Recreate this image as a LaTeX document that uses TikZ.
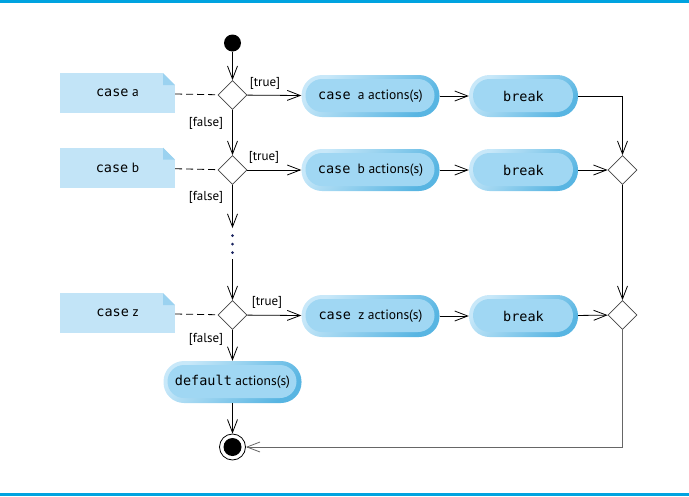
\documentclass[tikz,border=0pt]{standalone}
\usepackage{fontspec}
\setmainfont{PT Sans}
\setmonofont{DejaVu Sans Mono}
\usetikzlibrary{arrows.meta,shapes.geometric}
\definecolor{rulec}{HTML}{00A3E0}
\definecolor{notefill}{HTML}{C2E4F7}
\definecolor{notefold}{HTML}{9BD2F0}
\definecolor{acthi}{HTML}{C8E8F9}
\definecolor{actlo}{HTML}{58B5E2}
\definecolor{actin}{HTML}{A0D7F3}
\definecolor{diac}{HTML}{444444}
\definecolor{dotc}{HTML}{1A2460}
\begin{document}
\begin{tikzpicture}[x=1pt,y=-1pt,
  arr/.style={line width=0.8pt,-{Straight Barb[length=13pt,width=10pt,line width=0.8pt]}},
  dia/.style={diamond,draw=diac,line width=0.8pt,fill=white,minimum size=29pt,inner sep=0pt},
  act/.style={rectangle,rounded corners=20.5pt,minimum height=42pt,inner sep=0pt,
    top color=acthi,bottom color=actlo,shading angle=45,
    font=\fontsize{13.5}{16}\selectfont,
    path picture={\fill[actin,rounded corners=16.5pt]
      ([xshift=4pt,yshift=-4pt]path picture bounding box.north west) rectangle
      ([xshift=-5pt,yshift=5pt]path picture bounding box.south east);}},
  note/.style={rectangle,fill=notefill,minimum width=115pt,minimum height=40pt,inner sep=0pt,
    font=\fontsize{13.5}{16}\selectfont,
    path picture={
      \fill[white] ([xshift=-12pt]path picture bounding box.north east) --
        (path picture bounding box.north east) --
        ([yshift=-12pt]path picture bounding box.north east) -- cycle;
      \fill[notefold] ([xshift=-12pt]path picture bounding box.north east) --
        ([yshift=-12pt]path picture bounding box.north east) --
        ([xshift=-12pt,yshift=-12pt]path picture bounding box.north east) -- cycle;}},
  lbl/.style={font=\fontsize{13}{15}\selectfont,inner sep=0pt},
  dashc/.style={line width=0.8pt,dash pattern=on 7pt off 4pt}
]
\useasboundingbox (0,0) rectangle (689,496);
\fill[rulec] (0,0) rectangle (689,2.5);
\fill[rulec] (0,492.5) rectangle (689,495.5);

% start / end
\node[circle,fill=black,minimum size=17pt,inner sep=0pt] (s) at (232.5,43) {};
\node[circle,draw=black,line width=0.8pt,fill=white,minimum size=26pt,inner sep=0pt,
  path picture={\fill[black] (path picture bounding box.center) circle (9pt);}] (f) at (232.5,447) {};

% decisions
\node[dia] (d1) at (232.5,95) {};
\node[dia] (d2) at (232.5,170) {};
\node[dia] (d3) at (232.5,315) {};
\node[dia] (m1) at (622.5,170) {};
\node[dia] (m2) at (622.5,315) {};

% notes
\node[note] (na) at (117.5,93) {\texttt{case} a};
\node[note] (nb) at (117.5,167.5) {\texttt{case} b};
\node[note] (nz) at (117.5,313) {\texttt{case} z};

% actions
\node[act,minimum width=138pt] (a1) at (370.5,96) {\texttt{case}\ \ a actions(s)};
\node[act,minimum width=109pt] (b1) at (523.5,96) {\texttt{break}};
\node[act,minimum width=138pt] (a2) at (370.5,170) {\texttt{case}\ \ b actions(s)};
\node[act,minimum width=109pt] (b2) at (523.5,170) {\texttt{break}};
\node[act,minimum width=138pt] (a3) at (370.5,316) {\texttt{case}\ \ z actions(s)};
\node[act,minimum width=109pt] (b3) at (523.5,316) {\texttt{break}};
\node[act,minimum width=138pt] (df) at (232.5,382) {\texttt{default} actions(s)};

% labels
\node[lbl] (t1) at (265,83) {[true]};
\node[lbl] (f1) at (206,123) {[false]};
\node[lbl] (t2) at (264,157) {[true]};
\node[lbl] (f2) at (206,197) {[false]};
\node[lbl] (t3) at (267,302) {[true]};
\node[lbl] (f3) at (206,339) {[false]};

% dots
\coordinate (dtop) at (232.5,228);
\coordinate (dbot) at (232.5,259);
\fill[dotc] (232.5,235.5) circle (1.5pt) (232.5,244) circle (1.5pt) (232.5,252.5) circle (1.5pt);

% connectors
\draw[dashc] (na) -- (d1);
\draw[dashc] (nb) -- (d2);
\draw[dashc] (nz) -- (d3);
\draw[arr] (s) -- (d1);
\draw[arr] (d1) -- (a1);
\draw[arr] (d1) -- (d2);
\draw[arr] (d2) -- (a2);
\draw[arr] (d2) -- (dtop);
\draw[arr] (dbot) -- (d3);
\draw[arr] (d3) -- (a3);
\draw[arr] (d3) -- (df);
\draw[arr] (df) -- (f);
\draw[arr] (a1) -- (b1);
\draw[arr] (a2) -- (b2);
\draw[arr] (a3) -- (b3);
\draw[arr] (b1.east) -| (m1.north);
\draw[arr] (b2) -- (m1);
\draw[arr] (m1) -- (m2);
\draw[arr] (b3) -- (m2);
\draw[arr,draw=gray!80!black] (m2.south) |- (f);
\end{tikzpicture}
\end{document}
